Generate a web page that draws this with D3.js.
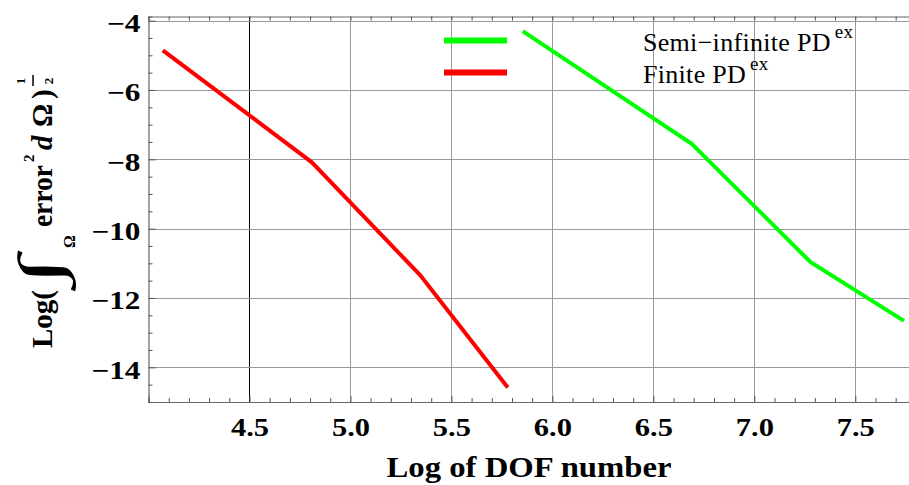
<!DOCTYPE html>
<html>
<head>
<meta charset="utf-8">
<script src="https://cdn.jsdelivr.net/npm/d3@7"></script>
<style>
  html, body { margin: 0; padding: 0; background: #fff; }
  svg { display: block; }
  text { font-family: "Liberation Serif", "Times New Roman", serif; }
</style>
</head>
<body>
<svg id="chart" width="909" height="485"></svg>
<script>
// Convergence of the error norm against the number of degrees of freedom (log scales)
const finiteX = [4.071, 4.809, 5.345, 5.779];
const finiteY = [-4.855, -8.086, -11.34, -14.58];
const semiX = [5.853, 6.690, 7.279, 7.741];
const semiY = [-4.30, -7.55, -10.97, -12.66];

const xTickValues = [4.5, 5.0, 5.5, 6.0, 6.5, 7.0, 7.5];
const yTickValues = [-14, -12, -10, -8, -6, -4];
const seriesNames = ["Semi\u2212infinite PD", "Finite PD"];
const seriesColors = ["#00ff00", "#ff0000"];

const svg = d3.select("#chart");
const plotL = 148.5, plotR = 909, plotT = 16.5, plotB = 402;

const x = d3.scaleLinear().domain([4.0, 7.766]).range([plotL, plotR]);
const y = d3.scaleLinear().domain([-15, -3.88]).range([plotB, plotT]);

// grid
const grid = svg.append("g");
grid.selectAll("line.gx").data(xTickValues).join("line")
  .attr("x1", d => Math.round(x(d)) + 0.5).attr("x2", d => Math.round(x(d)) + 0.5)
  .attr("y1", plotT).attr("y2", plotB)
  .attr("stroke", d => d === 4.5 ? "#000" : "#999").attr("stroke-width", 1);
grid.selectAll("line.gy").data(yTickValues).join("line")
  .attr("x1", plotL).attr("x2", plotR)
  .attr("y1", d => Math.round(y(d)) + 0.5).attr("y2", d => Math.round(y(d)) + 0.5)
  .attr("stroke", "#999").attr("stroke-width", 1);

// frame axes with inward ticks
const minorX = d3.range(40, 78).map(v => v / 10);
const minorY = d3.range(-30, -7).map(v => v / 2);

const xb = svg.append("g").attr("transform", `translate(0,${plotB})`)
  .call(d3.axisBottom(x).tickValues(minorX).tickSize(-4).tickFormat(""));
const xt = svg.append("g").attr("transform", `translate(0,${plotT})`)
  .call(d3.axisTop(x).tickValues(minorX).tickSize(-4).tickFormat(""));
const yl = svg.append("g").attr("transform", `translate(${plotL},0)`)
  .call(d3.axisLeft(y).tickValues(minorY).tickSize(-4).tickFormat(""));
[xb, xt, yl].forEach(g => {
  g.select(".domain").attr("stroke", "#666").attr("stroke-width", 1.2);
  g.selectAll(".tick line").attr("stroke", "#555");
});
yl.selectAll(".tick line").attr("x2", d => Number.isInteger(d / 2) ? 7 : 4);
xb.selectAll(".tick line").attr("y2", d => Math.abs(d * 2 - Math.round(d * 2)) < 1e-6 ? -6 : -4);

// tick labels
const xl = svg.append("g").attr("transform", `translate(0,${plotB})`)
  .call(d3.axisBottom(x).tickValues(xTickValues).tickSize(0).tickFormat(d3.format(".1f")));
xl.select(".domain").remove();
xl.selectAll("text")
  .style("font-family", "'Liberation Serif', serif").style("font-weight", "bold").style("font-size", "25px")
  .attr("fill", "#000").attr("y", 0).attr("dy", 0)
  .attr("transform", "translate(0,34) scale(1.22,1)");

const ylab = svg.append("g").attr("transform", `translate(${plotL},0)`)
  .call(d3.axisLeft(y).tickValues(yTickValues).tickSize(0).tickPadding(0).tickFormat(d => "\u2212" + Math.abs(d)));
ylab.select(".domain").remove();
ylab.selectAll("text")
  .style("font-family", "'Liberation Serif', serif").style("font-weight", "bold").style("font-size", "25px")
  .attr("fill", "#000").attr("x", 0).attr("dy", 0).attr("text-anchor", "end")
  .attr("transform", "translate(-8,11) scale(1.25,1)");

// series
const line = d3.line().x(d => x(d[0])).y(d => y(d[1]));
svg.append("path").datum(d3.zip(finiteX, finiteY))
  .attr("d", line).attr("fill", "none").attr("stroke", seriesColors[1]).attr("stroke-width", 4);
svg.append("path").datum(d3.zip(semiX, semiY))
  .attr("d", line).attr("fill", "none").attr("stroke", seriesColors[0]).attr("stroke-width", 4);

// legend
const legendY = [40.5, 72.5];
const lg = svg.append("g");
seriesNames.forEach((name, i) => {
  lg.append("line").attr("x1", 444).attr("x2", 507).attr("y1", legendY[i]).attr("y2", legendY[i])
    .attr("stroke", seriesColors[i]).attr("stroke-width", 6);
  const t = lg.append("text").attr("x", 643).attr("y", legendY[i] + 10.5)
    .attr("font-size", 26).attr("fill", "#000").attr("letter-spacing", 0.3);
  t.append("tspan").text(name);
  t.append("tspan").attr("font-size", 19).attr("dx", 4).attr("dy", -13).text("ex");
});

// axis titles
svg.append("text").attr("x", 529).attr("y", 477).attr("text-anchor", "middle")
  .attr("font-size", 30).attr("font-weight", "bold").attr("fill", "#000")
  .attr("textLength", 285).attr("lengthAdjust", "spacingAndGlyphs")
  .text("Log of DOF number");

// vertical title: Log( ∫_Ω error² dΩ )^(1/2), laid out along the rotated baseline
const yt = svg.append("g").attr("transform", "translate(52,348) rotate(-90)")
  .attr("font-weight", "bold").attr("fill", "#000");
const piece = (txt, px, py, size, extra) => {
  const t = yt.append("text").attr("x", px).attr("y", py).attr("font-size", size).text(txt);
  if (extra) extra(t);
  return t;
};
piece("Log(", 0, 0, 29);
piece("\u222B", 62, 8, 60, t => t.attr("transform", "translate(62,0) scale(1.8,1) translate(-62,0)"));
piece("\u03A9", 100, 23, 16);
piece("error", 121, 0, 29, t => t.attr("textLength", 62).attr("lengthAdjust", "spacingAndGlyphs"));
piece("2", 186, -18, 15);
piece("d", 198, 0, 29, t => t.attr("font-style", "italic"));
piece("\u03A9", 221, 0, 29);
piece(")", 249, 0, 29);
piece("1", 267, -27, 13, t => t.attr("text-anchor", "middle"));
yt.append("line").attr("x1", 262).attr("x2", 273).attr("y1", -19).attr("y2", -19)
  .attr("stroke", "#000").attr("stroke-width", 1.5);
piece("2", 267, 1, 13, t => t.attr("text-anchor", "middle"));
</script>
</body>
</html>
